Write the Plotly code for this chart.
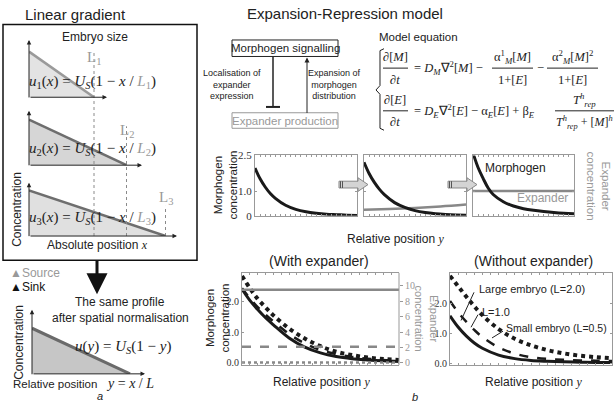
import plotly.graph_objects as go

W, H = 616, 408
SANS = "Liberation Sans, Arial, sans-serif"
SERIF = "Liberation Serif, Times New Roman, serif"
GREY = "#999999"


def px(x):
    return x / W


def py(y):
    return 1 - y / H


# ---------------- data ----------------
# panel a: linear gradients for three embryo sizes
embryo_L = [1.0, 1.5, 2.1]
U_s = 1.0
norm_pos = [0, 1.0]
norm_conc = [1.0, 0]

# panel b, middle row: time course (relative position y)
pos_mid = [0, .05, .1, .15, .2, .3, .4, .5, .6, .7, .8, .9, 1.0]
morph_t0 = [1.98, 1.53, 1.19, 0.92, 0.72, 0.43, 0.26, 0.16, 0.10, 0.06, 0.04, 0.02, 0.01]
morph_t1 = [2.22, 1.75, 1.39, 1.10, 0.87, 0.54, 0.34, 0.21, 0.13, 0.08, 0.05, 0.03, 0.02]
morph_t2 = [2.6, 2.0, 1.55, 1.15, 0.88, 0.58, 0.40, 0.29, 0.22, 0.17, 0.13, 0.10, 0.08]
exp_pos = [0, 0.25, 0.5, 0.75, 1.0]
exp_t1 = [0.25, 0.28, 0.32, 0.38, 0.46]
exp_t2 = [1.02, 1.02, 1.02, 1.02, 1.02]

# panel b, bottom row: steady states
pos = [0, .05, .1, .15, .2, .3, .4, .5, .6, .7, .8, .9, 1.0]
with_solid = [2.42, 2.05, 1.75, 1.48, 1.25, 0.82, 0.52, 0.33, 0.21, 0.14, 0.10, 0.07, 0.05]
with_dash = [2.45, 2.12, 1.83, 1.58, 1.36, 0.95, 0.64, 0.42, 0.29, 0.20, 0.14, 0.10, 0.08]
with_dot = [2.85, 2.45, 2.10, 1.82, 1.56, 1.13, 0.80, 0.55, 0.37, 0.26, 0.18, 0.13, 0.10]
exp_flat_pos = [0, 1.0]
exp_solid = [9.5, 9.5]
exp_dash = [2.1, 2.1]
exp_dot = [0.05, 0.05]
wo_large = [1.60, 1.22, 0.92, 0.68, 0.50, 0.27, 0.15, 0.09, 0.06, 0.04, 0.03, 0.02, 0.02]
wo_mid = [2.10, 1.72, 1.40, 1.12, 0.88, 0.53, 0.32, 0.20, 0.14, 0.11, 0.09, 0.08, 0.07]
wo_small = [2.95, 2.60, 2.25, 1.92, 1.62, 1.15, 0.82, 0.60, 0.44, 0.33, 0.25, 0.20, 0.16]

fig = go.Figure()
shapes = []
ann = []


def txt(x, y, s, size=11, color="#222", family=SANS, xanchor="center", angle=0):
    ann.append(dict(x=px(x), y=py(y), xref="paper", yref="paper", text=s, showarrow=False,
                    font=dict(size=size, color=color, family=family), xanchor=xanchor,
                    yanchor="middle", textangle=angle))


def arrow(hx, hy, tx, ty, width=1, size=1, color="#222", head=2):
    ann.append(dict(x=px(hx), y=py(hy), xref="paper", yref="paper", ax=tx - hx, ay=ty - hy,
                    text="", showarrow=True, arrowhead=head, arrowsize=size, arrowwidth=width,
                    arrowcolor=color))


def line(x0, y0, x1, y1, color="#222", width=1, dash="solid"):
    shapes.append(dict(type="line", xref="paper", yref="paper", x0=px(x0), y0=py(y0),
                       x1=px(x1), y1=py(y1), line=dict(color=color, width=width, dash=dash)))


def path(points, fill="rgba(0,0,0,0)", color="#222", width=1, close=True):
    d = "M " + " L ".join(f"{px(a):.5f},{py(b):.5f}" for a, b in points)
    if close:
        d += " Z"
    shapes.append(dict(type="path", xref="paper", yref="paper", path=d, fillcolor=fill,
                       line=dict(color=color, width=width)))


hidden = dict(visible=False, fixedrange=True)
layout_axes = {}

# ---------------- panel a ----------------
txt(75, 9, "Linear gradient", size=15)
shapes.append(dict(type="rect", xref="paper", yref="paper", x0=px(3), y0=py(19), x1=px(197),
                   y1=py(262), line=dict(color="#111", width=1.5)))
txt(95, 32, "Embryo size", size=12)

x0a, xscale = 29, 65
ysc = 47
bases = [(94, 35, 107), (164, 108, 142), (237, 182, 177)]
fills = ["#e3e3e3", "#d6d6d6", "#e0e0e0"]
edges = ["#9a9a9a", "#6e6e6e", "#6e6e6e"]
for i, (L, (base, top, xend)) in enumerate(zip(embryo_L, bases)):
    n = i + 1
    xa, ya = ("x", "y") if n == 1 else (f"x{n}", f"y{n}")
    layout_axes["xaxis" if n == 1 else f"xaxis{n}"] = dict(hidden, domain=[px(x0a), px(x0a + xscale * 2.3)], range=[0, 2.3])
    layout_axes["yaxis" if n == 1 else f"yaxis{n}"] = dict(hidden, domain=[py(base), py(top)], range=[0, (base - top) / ysc], anchor=xa)
    fig.add_trace(go.Scatter(x=[0, 0, L, 0], y=[0, U_s, 0, 0], fill="toself", fillcolor=fills[i],
                             mode="lines", line=dict(width=0), xaxis=xa, yaxis=ya, hoverinfo="skip"))
    fig.add_trace(go.Scatter(x=[0, L], y=[U_s, 0], mode="lines", line=dict(color=edges[i], width=2.5),
                             xaxis=xa, yaxis=ya, hoverinfo="skip"))
    fig.add_trace(go.Scatter(x=[0], y=[-0.085], mode="markers", cliponaxis=False,
                             marker=dict(symbol="triangle-up", size=8, color=GREY), xaxis=xa, yaxis=ya))
    fig.add_trace(go.Scatter(x=[L], y=[-0.085], mode="markers", cliponaxis=False,
                             marker=dict(symbol="triangle-up", size=8, color="#222"), xaxis=xa, yaxis=ya))
    arrow(x0a, top, x0a, base, size=0.9)
    arrow(xend, base, x0a, base, size=0.9)

ltops = [48, 124, 206]
llabel = [42, 117, 198]
for i, L in enumerate(embryo_L):
    shapes.append(dict(type="line", xref="x", yref="paper", x0=L, x1=L, y0=py(237), y1=py(ltops[i]),
                       line=dict(color="#8a8a8a", width=1, dash="dot")))
    ann.append(dict(x=L, xref="x", y=py(llabel[i]), yref="paper", text=f"L<sub>{i + 1}</sub>",
                    showarrow=False, font=dict(size=15, color=GREY, family=SERIF)))

for i, yy in enumerate([78, 147, 218]):
    n = i + 1
    txt(92, yy, f"<i>u</i><sub>{n}</sub>(<i>x</i>) = <i>U</i><sub><i>S</i></sub>(1 − <i>x</i> / "
                f"<span style='color:{GREY}'><i>L</i><sub>{n}</sub></span>)", size=15, family=SERIF)

txt(17, 210, "Concentration", size=12, angle=-90)
txt(97, 246, "Absolute position <span style='font-family:Liberation Serif'><i>x</i></span>", size=12)
txt(8, 275, "▲Source", size=12, color=GREY, xanchor="left")
txt(8, 290, "▲Sink", size=12, color="#111", xanchor="left")
arrow(97, 297, 97, 262, width=3, size=1.4, color="#111")

txt(120, 305, "The same profile", size=12)
txt(120, 321, "after spatial normalisation", size=12)
layout_axes["xaxis4"] = dict(hidden, domain=[px(32), px(32 + 98 * 1.15)], range=[0, 1.15])
layout_axes["yaxis4"] = dict(hidden, domain=[py(379), py(313)], range=[0, 66 / 47], anchor="x4")
fig.add_trace(go.Scatter(x=norm_pos[:1] + norm_pos, y=[0] + norm_conc, fill="toself", fillcolor="#c6c6c6",
                         mode="lines", line=dict(width=0), xaxis="x4", yaxis="y4", hoverinfo="skip"))
fig.add_trace(go.Scatter(x=norm_pos, y=norm_conc, mode="lines", line=dict(color="#6a6a6a", width=3),
                         xaxis="x4", yaxis="y4", hoverinfo="skip"))
arrow(32, 313, 32, 379, size=0.9)
arrow(145, 379, 32, 379, size=0.9)
txt(123, 351, "<i>u</i>(<i>y</i>) = <i>U</i><sub><i>S</i></sub>(1 − <i>y</i>)", size=15, family=SERIF)
txt(19, 347, "Concentration", size=12, angle=-90)
txt(99, 389, "Relative position", size=11.5, xanchor="right")
txt(104, 389, "<i>y</i> = <i>x</i> / <i>L</i>", size=14, family=SERIF, xanchor="left")
txt(100, 402, "<i>a</i>", size=11)

# ---------------- panel b: diagram + equations ----------------
txt(345, 8, "Expansion-Repression model", size=15)
shapes.append(dict(type="rect", xref="paper", yref="paper", x0=px(232), y0=py(35), x1=px(338), y1=py(52),
                   line=dict(color="#222", width=1)))
txt(285, 43.5, "Morphogen signalling", size=11.5)
shapes.append(dict(type="rect", xref="paper", yref="paper", x0=px(232), y0=py(110), x1=px(338), y1=py(126),
                   line=dict(color=GREY, width=1)))
txt(285, 118, "Expander production", size=11.5, color=GREY)
line(273, 52, 273, 104, width=1.5)
line(266, 104, 280, 104, width=2)
arrow(307, 53, 307, 110, size=1.0)
txt(232, 81, "Localisation of<br>expander<br>expression", size=9)
txt(335, 81, "Expansion of<br>morphogen<br>distribution", size=9)
txt(377, 32, "Model equation", size=11.5, xanchor="left")

path([(384, 44), (380, 46), (380, 82), (376, 86.5), (380, 91), (380, 126), (384, 128)],
     color="#222", width=1, close=False)

EQ = 12.5
txt(395, 53, "∂[<i>M</i>]", size=EQ, family=SERIF)
line(383, 64, 408, 64)
txt(395, 76, "∂<i>t</i>", size=EQ, family=SERIF)
txt(412, 64, "= <i>D<sub>M</sub></i>∇<sup>2</sup>[<i>M</i>] −", size=EQ, family=SERIF, xanchor="left")
txt(512, 53, "α<sup>1</sup><sub><i>M</i></sub>[<i>M</i>]", size=EQ, family=SERIF)
line(492, 64, 533, 64)
txt(512, 76, "1+[<i>E</i>]", size=EQ, family=SERIF)
txt(540, 64, "−", size=EQ, family=SERIF)
txt(572, 53, "α<sup>2</sup><sub><i>M</i></sub>[<i>M</i>]<sup>2</sup>", size=EQ, family=SERIF)
line(547, 64, 598, 64)
txt(572, 76, "1+[<i>E</i>]", size=EQ, family=SERIF)

txt(395, 97, "∂[<i>E</i>]", size=EQ, family=SERIF)
line(383, 108, 408, 108)
txt(395, 120, "∂<i>t</i>", size=EQ, family=SERIF)
txt(412, 108, "= <i>D<sub>E</sub></i>∇<sup>2</sup>[<i>E</i>] − α<sub><i>E</i></sub>[<i>E</i>] + β<sub><i>E</i></sub>",
    size=EQ, family=SERIF, xanchor="left")
txt(584, 97, "<i>T</i><sup><i>h</i></sup><sub><i>rep</i></sub>", size=EQ, family=SERIF)
line(555, 108, 614, 108)
txt(584, 120, "<i>T</i><sup><i>h</i></sup><sub><i>rep</i></sub> + [<i>M</i>]<sup><i>h</i></sup>", size=12, family=SERIF)

# ---------------- panel b: middle row ----------------
box = dict(showline=True, mirror="ticks", linecolor="#999", linewidth=1, ticks="inside", ticklen=2,
           tickcolor="#999", showgrid=False, zeroline=False, fixedrange=True)
mid_x = [(255, 357), (364, 466), (473, 574)]
for k, (a, b) in enumerate(mid_x):
    n = 5 + k
    layout_axes[f"xaxis{n}"] = dict(box, domain=[px(a), px(b)], range=[0, 1], dtick=0.05,
                                    showticklabels=False, anchor=f"y{n}")
    layout_axes[f"yaxis{n}"] = dict(box, domain=[py(216), py(154)], range=[0, 2.5],
                                    tickvals=[0, 1, 2.5], ticktext=["0", "1.0", "2.5"],
                                    showticklabels=(k == 0), anchor=f"x{n}",
                                    tickfont=dict(family=SERIF, size=11, color="#333"))

fig.add_trace(go.Scatter(x=pos_mid, y=morph_t0, mode="lines", line=dict(color="#1a1a1a", width=3, shape="spline"),
                         xaxis="x5", yaxis="y5"))
fig.add_trace(go.Scatter(x=exp_pos, y=exp_t1, mode="lines", line=dict(color="#888", width=2.5, shape="spline"),
                         xaxis="x6", yaxis="y6"))
fig.add_trace(go.Scatter(x=pos_mid, y=morph_t1, mode="lines", line=dict(color="#1a1a1a", width=3, shape="spline"),
                         xaxis="x6", yaxis="y6"))
fig.add_trace(go.Scatter(x=exp_pos, y=exp_t2, mode="lines", line=dict(color="#888", width=2.5),
                         xaxis="x7", yaxis="y7"))
fig.add_trace(go.Scatter(x=pos_mid, y=morph_t2, mode="lines", line=dict(color="#1a1a1a", width=3, shape="spline"),
                         xaxis="x7", yaxis="y7"))

for x0 in (339, 448):
    path([(x0, 180.5), (x0 + 19, 180.5), (x0 + 19, 177), (x0 + 29, 184), (x0 + 19, 191), (x0 + 19, 187.5), (x0, 187.5)],
         fill="#d4d4d4", color="#888", width=1)
    line(x0 + 1.5, 180.5, x0 + 1.5, 187.5, color="#555", width=1)
    line(x0 + 3.5, 180.5, x0 + 3.5, 187.5, color="#555", width=1)

txt(483, 167, "Morphogen", size=12, xanchor="left")
txt(570, 198, "Expander", size=12, color=GREY, xanchor="right")
txt(226, 185, "Morphogen<br>concentration", size=11.5, angle=-90)
txt(598, 185, "Expander<br>concentration", size=11.5, color=GREY, angle=90)
txt(395, 240, "Relative position <span style='font-family:Liberation Serif'><i>y</i></span>", size=12)

# ---------------- panel b: bottom row ----------------
txt(319, 263, "(With expander)", size=14)
txt(533, 263, "(Without expander)", size=14)
tfont = dict(family=SERIF, size=10, color="#333")
layout_axes["xaxis8"] = dict(box, domain=[px(242), px(399)], range=[0, 1], dtick=0.05, showticklabels=False, anchor="y8")
layout_axes["yaxis8"] = dict(box, domain=[py(370), py(275)], range=[-0.07, 2.95], tickvals=[0, 1, 2],
                             ticktext=["0.0", "1.0", "2.0"], tickfont=tfont, anchor="x8", mirror=False)
layout_axes["yaxis10"] = dict(showline=False, showgrid=False, zeroline=False, fixedrange=True, overlaying="y8",
                              side="right", anchor="x8", range=[-0.29, 11.7], tickvals=[0, 2, 4, 6, 8, 10],
                              ticks="outside", ticklen=3, tickcolor=GREY,
                              tickfont=dict(family=SERIF, size=10, color=GREY))
layout_axes["xaxis9"] = dict(box, domain=[px(450), px(612)], range=[0, 1], dtick=0.05, showticklabels=False, anchor="y9")
layout_axes["yaxis9"] = dict(box, domain=[py(370), py(275)], range=[-0.07, 3.05], tickvals=[0, 1, 2],
                             ticktext=["0.0", "1.0", "2.0"], tickfont=tfont, anchor="x9")
shapes.append(dict(type="line", xref="paper", yref="paper", x0=px(399), x1=px(399), y0=py(370), y1=py(275),
                   line=dict(color="#999", width=1)))

for vals, col, yax in [(exp_solid, "solid", "y10"), (exp_dash, "dash", "y10"), (exp_dot, "dot", "y10")]:
    fig.add_trace(go.Scatter(x=exp_flat_pos, y=vals, mode="lines", xaxis="x8", yaxis=yax,
                             line=dict(color="#888", width=2.5, dash=col)))
fig.add_trace(go.Scatter(x=pos, y=with_dot, mode="lines", xaxis="x8", yaxis="y8",
                         line=dict(color="#1a1a1a", width=4, dash="dot", shape="spline")))
fig.add_trace(go.Scatter(x=pos, y=with_dash, mode="lines", xaxis="x8", yaxis="y8",
                         line=dict(color="#1a1a1a", width=2.5, dash="dash", shape="spline")))
fig.add_trace(go.Scatter(x=pos, y=with_solid, mode="lines", xaxis="x8", yaxis="y8",
                         line=dict(color="#1a1a1a", width=3, shape="spline")))

fig.add_trace(go.Scatter(x=pos, y=wo_small, mode="lines", xaxis="x9", yaxis="y9",
                         line=dict(color="#1a1a1a", width=4, dash="dot", shape="spline")))
fig.add_trace(go.Scatter(x=pos, y=wo_mid, mode="lines", xaxis="x9", yaxis="y9",
                         line=dict(color="#1a1a1a", width=2.5, dash="dash", shape="spline")))
fig.add_trace(go.Scatter(x=pos, y=wo_large, mode="lines", xaxis="x9", yaxis="y9",
                         line=dict(color="#1a1a1a", width=3, shape="spline")))

txt(477, 292, "Large embryo (L=2.0)", size=11, xanchor="left")
line(474, 295, 461, 324)
txt(480, 315, "L=1.0", size=11, xanchor="left")
line(478, 318, 471, 331)
txt(504, 332, "Small embryo (L=0.5)", size=10.5, xanchor="left")
line(503, 335, 492, 342)

txt(218, 322, "Morphogen<br>concentration", size=11.5, angle=-90)
txt(427, 322, "Expander<br>concentration", size=11, color=GREY, angle=90)
txt(321, 387, "Relative position <span style='font-family:Liberation Serif'><i>y</i></span>", size=12)
txt(533, 387, "Relative position <span style='font-family:Liberation Serif'><i>y</i></span>", size=12)
txt(415, 403, "<i>b</i>", size=11)

fig.update_layout(width=W, height=H, margin=dict(l=0, r=0, t=0, b=0), showlegend=False,
                  paper_bgcolor="white", plot_bgcolor="white", shapes=shapes, annotations=ann,
                  font=dict(family=SANS, color="#222"), **layout_axes)
fig.update_traces(hoverinfo="skip")
fig.write_html("out.html", config={"displayModeBar": False},
               post_script="document.body.style.margin='0px';document.body.style.overflow='hidden';")
